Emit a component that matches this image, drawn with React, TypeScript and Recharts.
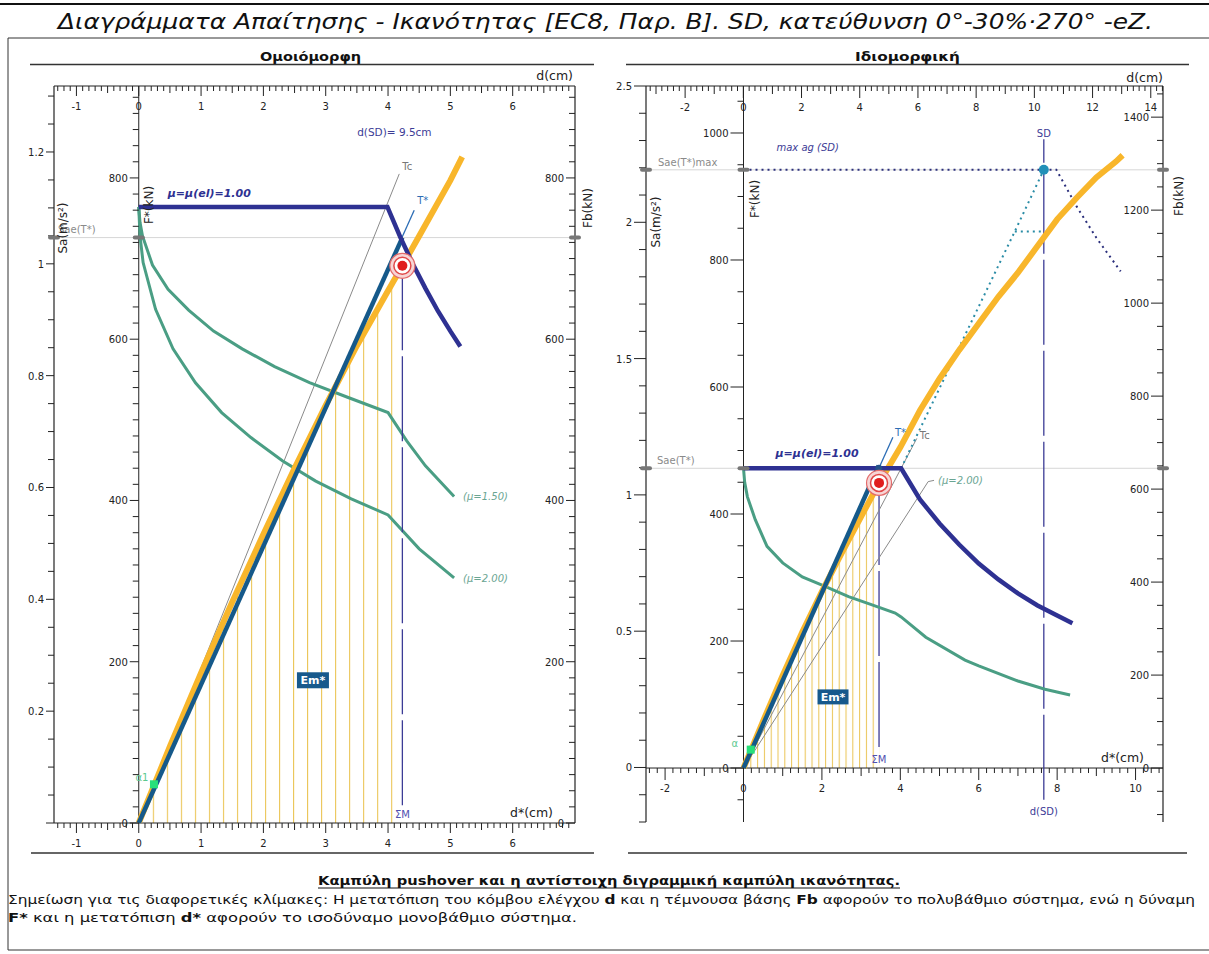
import React from 'react';
import { ComposedChart, Line, Area, XAxis, YAxis, ReferenceLine, ReferenceDot } from 'recharts';

const FONT = "'DejaVu Sans', Verdana, sans-serif";
const AXIS = '#222222';
const NAVY = '#2E3192';
const TEAL = '#15598A';
const ORANGE = '#F8B62B';
const GREEN = '#4A9E84';
const GRAY = '#8A8A8A';
const TSTAR = '#2C6DB5';
const HATCH = '#EBC65A';
const SDBLUE = '#2290B8';
const LBLUE = '#3C3C96';

type P = [number, number];

// ===== Left chart (Ομοιόμορφη): d* (cm) vs F* (kN)
const leftCapacity: P[] = [[0, 0], [0.5, 95], [1, 186], [1.5, 274], [2, 358], [2.5, 440], [3, 518], [3.5, 592], [4, 660], [4.23, 691], [4.5, 728], [5, 797], [5.19, 826]];
const leftHatch: P[] = [[0, 0], [0.5, 95], [1, 186], [1.5, 274], [2, 358], [2.5, 440], [3, 518], [3.5, 592], [4, 660], [4.23, 691]];
const leftBilinear: P[] = [[0, 0], [4.23, 726]];
const leftTstar: P[] = [[0, 0], [4.42, 760]];
const leftTc: P[] = [[0, 0], [4.18, 805]];
const leftElastic: P[] = [[0, 764], [3.99, 764], [4.2, 726], [4.4, 693], [4.6, 663], [4.8, 635], [5.0, 610], [5.16, 591]];
const leftMu150: P[] = [[0, 764], [0.02, 745], [0.06, 728], [0.22, 692], [0.47, 662], [0.8, 636], [1.2, 610], [1.66, 588], [2.18, 566], [2.74, 546], [3.35, 528], [4.0, 509], [4.3, 474], [4.6, 443], [5.06, 405]];
const leftMu200: P[] = [[0, 764], [0.02, 728], [0.07, 695], [0.27, 637], [0.55, 588], [0.91, 546], [1.33, 509], [1.8, 478], [2.31, 449], [2.84, 424], [3.41, 402], [4.0, 382], [4.5, 340], [5.06, 304]];
const leftTarget: P = [4.23, 691];
const leftSae = 726;
const leftAlpha: P = [0.244, 48];
const leftEm: P = [2.795, 177];

// ===== Right chart (Ιδιομορφική): d* (cm) vs F* (kN)
const rightCapacity: P[] = [[0, 0], [0.5, 74], [1, 146], [1.5, 214], [2, 278], [2.5, 338], [3, 396], [3.46, 449], [4, 505], [4.5, 563], [5, 613], [5.5, 658], [6, 700], [6.5, 742], [7, 780], [7.5, 822], [8, 864], [8.5, 898], [9, 930], [9.5, 955], [9.67, 965]];
const rightHatch: P[] = [[0, 0], [0.5, 74], [1, 146], [1.5, 214], [2, 278], [2.5, 338], [3, 396], [3.46, 449]];
const rightBilinear: P[] = [[0, 0], [3.45, 476]];
const rightTstar: P[] = [[0, 0], [3.81, 521]];
const rightTc: P[] = [[0, 0], [4.42, 519]];
const rightMuLeader: P[] = [[0, 0], [4.71, 451], [4.86, 453]];
const rightElastic: P[] = [[0, 472], [4.02, 472], [4.5, 423], [5, 385], [5.5, 352], [6, 322], [6.5, 297], [7, 275], [7.5, 256], [8, 240], [8.39, 228]];
const rightMu200: P[] = [[0, 472], [0.03, 450], [0.1, 427], [0.3, 391], [0.6, 349], [1, 323], [1.5, 301], [2.08, 286], [2.68, 270], [3.28, 257], [3.87, 244], [4.02, 238], [4.65, 206], [5.65, 170], [6, 161], [7, 137], [7.69, 124], [8.33, 115]];
const rightMaxAg: P[] = [[0, 942], [7.98, 942], [8.5, 884], [9, 835], [9.62, 782]];
const rightSdPath: P[] = [[4.02, 472], [6.92, 845], [7.66, 942]];
const rightSdFlat: P[] = [[6.92, 845], [7.66, 845]];
const rightSD: P = [7.66, 942];
const rightTarget: P = [3.457, 449];
const rightSae = 472;
const rightSaeMax = 942;
const rightAlpha: P = [0.184, 29];
const rightEm: P = [2.283, 112];

// ===== axis domains
const L_DS: [number, number] = [-1.36, 7.0];
const L_D: [number, number] = [-1.36, 7.0];
const L_F: [number, number] = [0, 914];
const L_SA: [number, number] = [0, 1.318];
const L_FB: [number, number] = [0, 914];
const R_DS: [number, number] = [-2.487, 10.7];
const R_D: [number, number] = [-3.344, 14.42];
const R_F: [number, number] = [-85, 1074];
const R_SA: [number, number] = [-0.2, 2.5];
const R_FB: [number, number] = [-116, 1467];

const range = (a: number, b: number, s: number) => {
  const n = Math.round((b - a) / s);
  return Array.from({ length: n + 1 }, (_, i) => parseFloat((a + i * s).toFixed(4)));
};
const lDsTicks = range(-1.3, 6.9, 0.1);
const lDTicks = range(-1.3, 6.9, 0.1);
const lSaTicks = range(0, 1.3, 0.05);
const lFTicks = range(0, 900, 20);
const lFbTicks = range(0, 900, 20);
const rDTicks = range(-3.2, 14.4, 0.2);
const rDsTicks = range(-2.4, 10.6, 0.2);
const rSaTicks = range(-0.2, 2.5, 0.1);
const rFTicks = range(-50, 1050, 50);
const rFbTicks = range(-100, 1450, 50);

const pts = (a: P[]) => a.map(([d, F]) => ({ d, F }));
const isMult = (v: number, m: number) => Math.abs(v / m - Math.round(v / m)) < 1e-6;
const fmtNum = (v: number) => String(parseFloat(v.toFixed(3)));

type Kind = 'major' | 'mid' | 'minor';
const kinds = (major: number, mid?: number) => (v: number): Kind =>
  isMult(v, major) ? 'major' : mid !== undefined && isMult(v, mid) ? 'mid' : 'minor';

// tick drawn at an axis crossing point: 'h' = tick goes left, label left; 'v' = tick goes down, label below
function tickShape(side: 'h' | 'v', v: number, kindOf: (v: number) => Kind, showLabel: (v: number) => boolean, lens: [number, number, number], lblOff = 24) {
  return (p: any) => {
    const x = p.cx;
    const y = p.cy;
    const k = kindOf(v);
    const len = k === 'major' ? lens[0] : k === 'mid' ? lens[1] : lens[2];
    const lbl = k === 'major' && showLabel(v) ? fmtNum(v) : null;
    if (side === 'h') {
      return (
        <g>
          <line x1={x} y1={y} x2={x - len} y2={y} stroke={AXIS} strokeWidth={1} />
          {lbl !== null && (
            <text x={x - len - 2} y={y + 4} textAnchor="end" fontSize={10} fontFamily={FONT} fill="#222">{lbl}</text>
          )}
        </g>
      );
    }
    return (
      <g>
        <line x1={x} y1={y} x2={x} y2={y + len} stroke={AXIS} strokeWidth={1} />
        {lbl !== null && (
          <text x={x} y={y + lblOff} textAnchor="middle" fontSize={10} fontFamily={FONT} fill="#222">{lbl}</text>
        )}
      </g>
    );
  };
}

type AxisSpec = {
  key: string; ticks: number[]; xAxisId: string; yAxisId: string;
  at: (v: number) => { x: number; y: number }; side: 'h' | 'v';
  kindOf: (v: number) => Kind; showLabel: (v: number) => boolean; lens: [number, number, number]; lblOff?: number;
};
function axisDots(s: AxisSpec) {
  return s.ticks.map((v) => {
    const pos = s.at(v);
    return (
      <ReferenceDot key={`${s.key}${v}`} xAxisId={s.xAxisId} yAxisId={s.yAxisId} ifOverflow="visible" x={pos.x} y={pos.y} r={0}
        shape={tickShape(s.side, v, s.kindOf, s.showLabel, s.lens, s.lblOff)} />
    );
  });
}

function textShape(text: string, dx: number, dy: number, o: { fill?: string; size?: number; anchor?: string; italic?: boolean; bold?: boolean } = {}) {
  return (p: any) => (
    <text x={p.cx + dx} y={p.cy + dy} fill={o.fill || '#333'} fontSize={o.size || 10} fontFamily={FONT}
      textAnchor={o.anchor || 'start'} fontStyle={o.italic ? 'italic' : 'normal'} fontWeight={o.bold ? 'bold' : 'normal'}>{text}</text>
  );
}

const markerShape = (p: any) => <rect x={p.cx - 6} y={p.cy - 2} width={12} height={4} rx={2} fill="#777" />;

const targetShape = (p: any) => (
  <g>
    <circle cx={p.cx} cy={p.cy} r={12.5} fill="#F7D5D5" stroke="#E36B6B" strokeWidth={1.2} />
    <circle cx={p.cx} cy={p.cy} r={8.5} fill="#FFFFFF" stroke="#E04848" strokeWidth={1.5} />
    <circle cx={p.cx} cy={p.cy} r={5} fill="#E01E1E" />
  </g>
);

const emShape = (w: number, h: number) => (p: any) => (
  <g>
    <rect x={p.cx - w / 2} y={p.cy - h / 2} width={w} height={h} fill="#17598C" />
    <text x={p.cx} y={p.cy + 4} textAnchor="middle" fill="#fff" fontWeight="bold" fontSize={11} fontFamily={FONT}>Em*</text>
  </g>
);

const alphaShape = (label: string, dx: number, dy: number) => (p: any) => (
  <g>
    <rect x={p.cx - 4} y={p.cy - 4} width={8} height={8} fill="#27E07A" />
    <text x={p.cx + dx} y={p.cy + dy} textAnchor="middle" fill="#5BC98F" fontSize={10} fontFamily={FONT}>{label}</text>
  </g>
);

const sdShape = (p: any) => <circle cx={p.cx} cy={p.cy} r={5} fill={SDBLUE} />;
const yieldShape = (p: any) => <circle cx={p.cx} cy={p.cy} r={3.5} fill="#24518A" />;

const lineProps = { xAxisId: 'ds', yAxisId: 'F', dataKey: 'F', type: 'linear' as const, dot: false, activeDot: false, isAnimationActive: false };
const refIds = { xAxisId: 'ds', yAxisId: 'F', ifOverflow: 'visible' as const };

function LeftChart() {
  const fKind = kinds(200);
  const dKind = kinds(1, 0.5);
  return (
    <ComposedChart width={600} height={786} margin={{ top: 20, right: 25, bottom: 29, left: 54 }}>
      <XAxis xAxisId="ds" dataKey="d" type="number" domain={L_DS} allowDataOverflow hide />
      <XAxis xAxisId="d" dataKey="d" type="number" domain={L_D} allowDataOverflow hide />
      <YAxis yAxisId="F" type="number" domain={L_F} allowDataOverflow hide />
      <YAxis yAxisId="Sa" type="number" domain={L_SA} allowDataOverflow hide />
      <YAxis yAxisId="Fb" type="number" domain={L_FB} allowDataOverflow hide />

      <Area {...lineProps} data={pts(leftHatch)} stroke="none" fill="url(#hatchL)" fillOpacity={1} baseValue={0} />

      <ReferenceLine {...refIds} y={leftSae} stroke="#D6D6D6" strokeWidth={1} />
      {/* frame / axis lines */}
      <ReferenceLine {...refIds} x={L_DS[0]} stroke={AXIS} strokeWidth={1.2} />
      <ReferenceLine {...refIds} x={L_DS[1]} stroke={AXIS} strokeWidth={1.2} />
      <ReferenceLine {...refIds} y={L_F[0]} stroke={AXIS} strokeWidth={1.2} />
      <ReferenceLine {...refIds} y={L_F[1]} stroke={AXIS} strokeWidth={1.2} />
      <ReferenceLine {...refIds} x={0} stroke={AXIS} strokeWidth={1} />

      {axisDots({ key: 'lsa', ticks: lSaTicks, xAxisId: 'ds', yAxisId: 'Sa', at: (v) => ({ x: L_DS[0], y: v }), side: 'h', kindOf: kinds(0.2), showLabel: (v) => v > 0, lens: [8, 6, 6] })}
      {axisDots({ key: 'lf', ticks: lFTicks, xAxisId: 'ds', yAxisId: 'F', at: (v) => ({ x: 0, y: v }), side: 'h', kindOf: fKind, showLabel: () => true, lens: [9, 6, 6] })}
      {axisDots({ key: 'lfb', ticks: lFbTicks, xAxisId: 'ds', yAxisId: 'Fb', at: (v) => ({ x: L_DS[1], y: v }), side: 'h', kindOf: fKind, showLabel: () => true, lens: [9, 6, 6] })}
      {axisDots({ key: 'ld', ticks: lDTicks, xAxisId: 'd', yAxisId: 'F', at: (v) => ({ x: v, y: L_F[1] }), side: 'v', kindOf: dKind, showLabel: () => true, lens: [10, 7, 5] })}
      {axisDots({ key: 'lds', ticks: lDsTicks, xAxisId: 'ds', yAxisId: 'F', at: (v) => ({ x: v, y: 0 }), side: 'v', kindOf: dKind, showLabel: () => true, lens: [10, 7, 5] })}

      <Line {...lineProps} data={pts(leftTc)} stroke={GRAY} strokeWidth={1} />
      <Line {...lineProps} data={pts(leftTstar)} stroke={TSTAR} strokeWidth={1.3} />
      <Line {...lineProps} data={pts(leftMu150)} stroke={GREEN} strokeWidth={3} />
      <Line {...lineProps} data={pts(leftMu200)} stroke={GREEN} strokeWidth={3} />
      <Line {...lineProps} data={pts(leftCapacity)} stroke={ORANGE} strokeWidth={6} />
      <Line {...lineProps} data={pts(leftBilinear)} stroke={TEAL} strokeWidth={4.5} />
      <Line {...lineProps} data={pts(leftElastic)} stroke={NAVY} strokeWidth={4.5} />

      <ReferenceLine {...refIds} segment={[{ x: leftTarget[0], y: 22 }, { x: leftTarget[0], y: 678 }]} stroke={LBLUE} strokeWidth={1.3} strokeDasharray="85 6" />

      <ReferenceDot {...refIds} x={L_DS[0]} y={leftSae} r={0} shape={markerShape} />
      <ReferenceDot {...refIds} x={0} y={leftSae} r={0} shape={markerShape} />
      <ReferenceDot {...refIds} x={L_DS[1]} y={leftSae} r={0} shape={markerShape} />
      <ReferenceDot {...refIds} x={L_DS[0]} y={leftSae} r={0} shape={textShape('Sae(T*)', 4, -5, { fill: '#8A8A8A', size: 10 })} />

      <ReferenceDot {...refIds} x={0} y={764} r={0} shape={textShape('μ=μ(el)=1.00', 29, -10, { fill: NAVY, size: 11, bold: true, italic: true })} />
      <ReferenceDot {...refIds} x={5.06} y={405} r={0} shape={textShape('(μ=1.50)', 9, 4, { fill: '#6AA592', size: 10, italic: true })} />
      <ReferenceDot {...refIds} x={5.06} y={304} r={0} shape={textShape('(μ=2.00)', 9, 4, { fill: '#6AA592', size: 10, italic: true })} />
      <ReferenceDot {...refIds} x={4.18} y={805} r={0} shape={textShape('Tc', 3, -4, { fill: '#777', size: 10 })} />
      <ReferenceDot {...refIds} x={4.42} y={760} r={0} shape={textShape('T*', 3, -6, { fill: TSTAR, size: 10 })} />
      <ReferenceDot {...refIds} x={leftTarget[0]} y={860} r={0} shape={textShape('d(SD)= 9.5cm', -8, 6, { fill: LBLUE, size: 10.5, anchor: 'middle' })} />
      <ReferenceDot {...refIds} x={leftTarget[0]} y={0} r={0} shape={textShape('ΣΜ', 0, -5, { fill: '#5050B0', size: 10, anchor: 'middle' })} />
      <ReferenceDot {...refIds} x={leftEm[0]} y={leftEm[1]} r={0} shape={emShape(32, 16)} />
      <ReferenceDot {...refIds} x={leftAlpha[0]} y={leftAlpha[1]} r={0} shape={alphaShape('α1', -12, -3)} />
      <ReferenceDot {...refIds} x={leftTarget[0]} y={leftTarget[1]} r={0} shape={targetShape} />
    </ComposedChart>
  );
}

function RightChart() {
  const fKind = kinds(200);
  const dKind = kinds(2, 1);
  return (
    <ComposedChart width={609} height={786} margin={{ top: 20, right: 46, bottom: 30, left: 46 }}>
      <XAxis xAxisId="ds" dataKey="d" type="number" domain={R_DS} allowDataOverflow hide />
      <XAxis xAxisId="d" dataKey="d" type="number" domain={R_D} allowDataOverflow hide />
      <YAxis yAxisId="F" type="number" domain={R_F} allowDataOverflow hide />
      <YAxis yAxisId="Sa" type="number" domain={R_SA} allowDataOverflow hide />
      <YAxis yAxisId="Fb" type="number" domain={R_FB} allowDataOverflow hide />

      <Area {...lineProps} data={pts(rightHatch)} stroke="none" fill="url(#hatchR)" fillOpacity={1} baseValue={0} />

      <ReferenceLine {...refIds} y={rightSae} stroke="#D6D6D6" strokeWidth={1} />
      <ReferenceLine {...refIds} y={rightSaeMax} stroke="#D6D6D6" strokeWidth={1} />
      {/* frame / axis lines */}
      <ReferenceLine {...refIds} x={R_DS[0]} stroke={AXIS} strokeWidth={1.2} />
      <ReferenceLine {...refIds} x={R_DS[1]} stroke={AXIS} strokeWidth={1.2} />
      <ReferenceLine {...refIds} y={R_F[1]} stroke={AXIS} strokeWidth={1.2} />
      <ReferenceLine {...refIds} x={0} stroke={AXIS} strokeWidth={1} />
      <ReferenceLine {...refIds} y={0} stroke={AXIS} strokeWidth={1} />

      {axisDots({ key: 'rsa', ticks: rSaTicks, xAxisId: 'ds', yAxisId: 'Sa', at: (v) => ({ x: R_DS[0], y: v }), side: 'h', kindOf: kinds(0.5), showLabel: (v) => v >= 0, lens: [12, 7, 7] })}
      {axisDots({ key: 'rf', ticks: rFTicks, xAxisId: 'ds', yAxisId: 'F', at: (v) => ({ x: 0, y: v }), side: 'h', kindOf: fKind, showLabel: (v) => v >= 0, lens: [13, 6, 6] })}
      {axisDots({ key: 'rfb', ticks: rFbTicks, xAxisId: 'ds', yAxisId: 'Fb', at: (v) => ({ x: R_DS[1], y: v }), side: 'h', kindOf: fKind, showLabel: (v) => v >= 0, lens: [12, 6, 6] })}
      {axisDots({ key: 'rd', ticks: rDTicks, xAxisId: 'd', yAxisId: 'F', at: (v) => ({ x: v, y: R_F[1] }), side: 'v', kindOf: dKind, showLabel: () => true, lens: [12, 8, 5], lblOff: 25 })}
      {axisDots({ key: 'rds', ticks: rDsTicks, xAxisId: 'ds', yAxisId: 'F', at: (v) => ({ x: v, y: 0 }), side: 'v', kindOf: dKind, showLabel: () => true, lens: [12, 8, 5] })}

      <ReferenceLine {...refIds} segment={[{ x: rightSD[0], y: -50 }, { x: rightSD[0], y: 990 }]} stroke={LBLUE} strokeWidth={1.3} strokeDasharray="85 6" />
      <ReferenceLine {...refIds} segment={[{ x: rightTarget[0], y: 33 }, { x: rightTarget[0], y: 436 }]} stroke={LBLUE} strokeWidth={1.3} strokeDasharray="85 6" />

      <Line {...lineProps} data={pts(rightTc)} stroke={GRAY} strokeWidth={1} />
      <Line {...lineProps} data={pts(rightMuLeader)} stroke={GRAY} strokeWidth={1} />
      <Line {...lineProps} data={pts(rightTstar)} stroke={TSTAR} strokeWidth={1.3} />
      <Line {...lineProps} data={pts(rightMu200)} stroke={GREEN} strokeWidth={3} />
      <Line {...lineProps} data={pts(rightSdPath)} stroke="#2A8CA6" strokeWidth={2} strokeDasharray="2 4" />
      <Line {...lineProps} data={pts(rightSdFlat)} stroke="#2A8CA6" strokeWidth={2} strokeDasharray="2 4" />
      <Line {...lineProps} data={pts(rightMaxAg)} stroke="#2B2F7C" strokeWidth={2} strokeDasharray="2 4" />
      <Line {...lineProps} data={pts(rightCapacity)} stroke={ORANGE} strokeWidth={6} />
      <Line {...lineProps} data={pts(rightBilinear)} stroke={TEAL} strokeWidth={4.5} />
      <Line {...lineProps} data={pts(rightElastic)} stroke={NAVY} strokeWidth={4.5} />

      {[R_DS[0], 0, R_DS[1]].map((x) => (
        <ReferenceDot key={`m1${x}`} {...refIds} x={x} y={rightSae} r={0} shape={markerShape} />
      ))}
      {[R_DS[0], 0, R_DS[1]].map((x) => (
        <ReferenceDot key={`m2${x}`} {...refIds} x={x} y={rightSaeMax} r={0} shape={markerShape} />
      ))}
      <ReferenceDot {...refIds} x={R_DS[0]} y={rightSae} r={0} shape={textShape('Sae(T*)', 11, -4, { fill: '#8A8A8A', size: 10 })} />
      <ReferenceDot {...refIds} x={R_DS[0]} y={rightSaeMax} r={0} shape={textShape('Sae(T*)max', 12, -4, { fill: '#8A8A8A', size: 10 })} />
      <ReferenceDot {...refIds} x={0} y={rightSaeMax} r={0} shape={textShape('max ag (SD)', 33, -19, { fill: LBLUE, size: 10, italic: true })} />
      <ReferenceDot {...refIds} x={rightSD[0]} y={rightSD[1]} r={0} shape={textShape('SD', 0, -33, { fill: LBLUE, size: 10, anchor: 'middle' })} />
      <ReferenceDot {...refIds} x={rightSD[0]} y={0} r={0} shape={textShape('d(SD)', 0, 47, { fill: LBLUE, size: 10, anchor: 'middle' })} />
      <ReferenceDot {...refIds} x={0} y={rightSae} r={0} shape={textShape('μ=μ(el)=1.00', 32, -11, { fill: NAVY, size: 11, bold: true, italic: true })} />
      <ReferenceDot {...refIds} x={3.81} y={521} r={0} shape={textShape('T*', 2, -1, { fill: TSTAR, size: 10 })} />
      <ReferenceDot {...refIds} x={4.42} y={519} r={0} shape={textShape('Tc', 3, 1, { fill: '#777', size: 10 })} />
      <ReferenceDot {...refIds} x={4.86} y={453} r={0} shape={textShape('(μ=2.00)', 4, 4, { fill: '#6AA592', size: 10, italic: true })} />
      <ReferenceDot {...refIds} x={rightTarget[0]} y={0} r={0} shape={textShape('ΣΜ', 0, -5, { fill: '#5050B0', size: 10, anchor: 'middle' })} />
      <ReferenceDot {...refIds} x={rightEm[0]} y={rightEm[1]} r={0} shape={emShape(31, 15)} />
      <ReferenceDot {...refIds} x={rightAlpha[0]} y={rightAlpha[1]} r={0} shape={alphaShape('α', -16, -3)} />
      <ReferenceDot {...refIds} x={3.45} y={472} r={0} shape={yieldShape} />
      <ReferenceDot {...refIds} x={rightSD[0]} y={rightSD[1]} r={0} shape={sdShape} />
      <ReferenceDot {...refIds} x={rightTarget[0]} y={rightTarget[1]} r={0} shape={targetShape} />
    </ComposedChart>
  );
}

function VText({ x, y, children, size = 12 }: { x: number; y: number; children: React.ReactNode; size?: number }) {
  return (
    <text x={x} y={y} transform={`rotate(-90 ${x} ${y})`} textAnchor="middle" dominantBaseline="central" fontSize={size} fontFamily={FONT} fill="#222">{children}</text>
  );
}

export default function App() {
  return (
    <div style={{ position: 'absolute', left: 0, top: 0, width: 1209, height: 954, background: '#fff', overflow: 'hidden' }}>
      <svg width={0} height={0} style={{ position: 'absolute' }}>
        <defs>
          <pattern id="hatchL" patternUnits="userSpaceOnUse" x={138.8} y={0} width={14.02} height={20}>
            <line x1={0.5} y1={0} x2={0.5} y2={20} stroke={HATCH} strokeWidth={1.2} />
          </pattern>
          <pattern id="hatchR" patternUnits="userSpaceOnUse" x={143.5} y={0} width={6.8} height={20}>
            <line x1={0.5} y1={0} x2={0.5} y2={20} stroke={HATCH} strokeWidth={1.1} />
          </pattern>
        </defs>
      </svg>
      <div style={{ position: 'absolute', left: 0, top: 66 }}><LeftChart /></div>
      <div style={{ position: 'absolute', left: 600, top: 66 }}><RightChart /></div>
      <svg width={1209} height={954} style={{ position: 'absolute', left: 0, top: 0, pointerEvents: 'none' }}>
        <line x1={0} y1={4} x2={1209} y2={4} stroke="#111" strokeWidth={2} />
        <text x={58} y={29} fontSize={22} fontStyle="italic" fontFamily={FONT} fill="#111" textLength={1095} lengthAdjust="spacingAndGlyphs">
          Διαγράμματα Απαίτησης - Ικανότητας [EC8, Παρ. B]. SD, κατεύθυνση 0°-30%·270° -eZ.
        </text>
        <line x1={8} y1={38} x2={1209} y2={38} stroke="#333" strokeWidth={1} />
        <line x1={8} y1={38} x2={8} y2={950} stroke="#333" strokeWidth={1} />
        <line x1={8} y1={950} x2={1209} y2={950} stroke="#333" strokeWidth={1} />

        <text x={260} y={61} fontSize={12.5} fontWeight="bold" fontFamily={FONT} fill="#111" textLength={101} lengthAdjust="spacingAndGlyphs">Ομοιόμορφη</text>
        <text x={855} y={61} fontSize={12.5} fontWeight="bold" fontFamily={FONT} fill="#111" textLength={105} lengthAdjust="spacingAndGlyphs">Ιδιομορφική</text>
        <line x1={30} y1={64.5} x2={594} y2={64.5} stroke="#333" strokeWidth={1.3} />
        <line x1={626} y1={64.5} x2={1189} y2={64.5} stroke="#333" strokeWidth={1.3} />
        <line x1={31} y1={853} x2={594} y2={853} stroke="#333" strokeWidth={1.3} />
        <line x1={628} y1={853} x2={1187} y2={853} stroke="#333" strokeWidth={1.3} />

        <VText x={63} y={228}>Sa(m/s²)</VText>
        <VText x={149} y={205}>F*(kN)</VText>
        <VText x={588} y={208}>Fb(kN)</VText>
        <text x={573} y={80} textAnchor="end" fontSize={12.5} fontFamily={FONT} fill="#222">d(cm)</text>
        <text x={553} y={817} textAnchor="end" fontSize={12.5} fontFamily={FONT} fill="#222">d*(cm)</text>

        <VText x={656} y={222}>Sa(m/s²)</VText>
        <VText x={755} y={199}>F*(kN)</VText>
        <VText x={1179} y={196}>Fb(kN)</VText>
        <text x={1163} y={82} textAnchor="end" fontSize={12.5} fontFamily={FONT} fill="#222">d(cm)</text>
        <text x={1144} y={762} textAnchor="end" fontSize={12.5} fontFamily={FONT} fill="#222">d*(cm)</text>

        <text x={318} y={885} fontSize={12.5} fontWeight="bold" fontFamily={FONT} fill="#111" textLength={582} lengthAdjust="spacingAndGlyphs">
          Καμπύλη pushover και η αντίστοιχη διγραμμική καμπύλη ικανότητας.
        </text>
        <line x1={318} y1={888} x2={900} y2={888} stroke="#111" strokeWidth={1} />
        <text x={8} y={904} fontSize={12} fontFamily={FONT} fill="#111" textLength={1187} lengthAdjust="spacingAndGlyphs">
          Σημείωση για τις διαφορετικές κλίμακες: Η μετατόπιση του κόμβου ελέγχου <tspan fontWeight="bold">d</tspan> και η τέμνουσα βάσης <tspan fontWeight="bold">Fb</tspan> αφορούν το πολυβάθμιο σύστημα, ενώ η δύναμη
        </text>
        <text x={8} y={922} fontSize={12} fontFamily={FONT} fill="#111" textLength={569} lengthAdjust="spacingAndGlyphs">
          <tspan fontWeight="bold">F*</tspan> και η μετατόπιση <tspan fontWeight="bold">d*</tspan> αφορούν το ισοδύναμο μονοβάθμιο σύστημα.
        </text>
      </svg>
    </div>
  );
}
